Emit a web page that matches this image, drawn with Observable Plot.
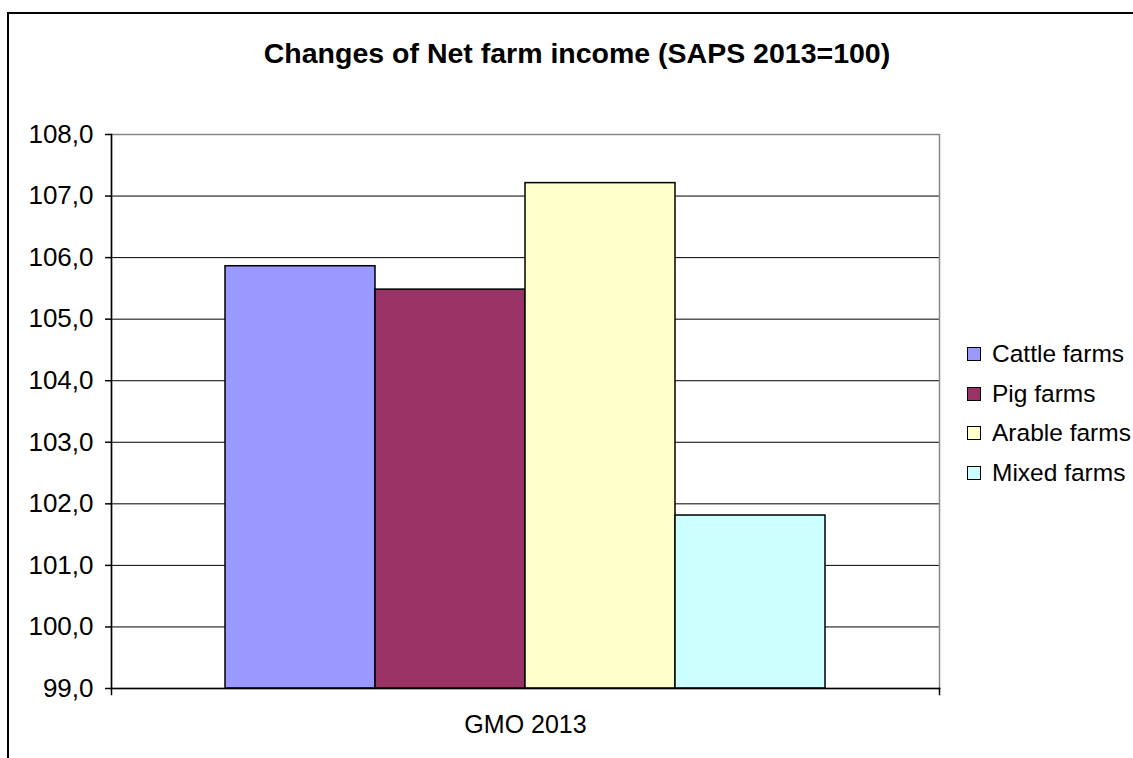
<!DOCTYPE html>
<html>
<head>
<meta charset="utf-8">
<script src="https://cdn.jsdelivr.net/npm/d3@7"></script>
<script src="https://cdn.jsdelivr.net/npm/@observablehq/plot@0.6"></script>
<style>
  html, body { margin: 0; padding: 0; background: #fff; overflow: hidden; }
  body { width: 1133px; height: 758px; position: relative; font-family: "Liberation Sans", Arial, sans-serif; }
  #border { position: absolute; left: 7px; top: 12px; width: 2000px; height: 2000px; border-left: 2px solid #000; border-top: 2px solid #000; }
  #title { position: absolute; left: 0; top: 39px; width: 1154px; text-align: center; font-weight: bold; font-size: 28.5px; line-height: 28px; color: #000; white-space: nowrap; }
  #chart { position: absolute; left: 0; top: 0; }
  .row { position: absolute; left: 967px; height: 24px; line-height: 24px; font-size: 24.5px; white-space: nowrap; color: #000; }
  .sw { position: absolute; left: 0; top: 5px; width: 14px; height: 14px; box-sizing: border-box; border: 1px solid #000; }
  .lb { position: absolute; left: 25px; top: 0; }
</style>
</head>
<body>
<div id="border"></div>
<div id="chart"></div>
<div id="title">Changes of Net farm income (SAPS 2013=100)</div>
<div id="legend"></div>
<script>
const group = "GMO 2013";
const farmTypes = ["Cattle farms", "Pig farms", "Arable farms", "Mixed farms"];
const values = [105.86, 105.48, 107.21, 101.81];
const colors = ["#9999FF", "#993366", "#FFFFCC", "#CCFFFF"];
const yTicks = [99, 100, 101, 102, 103, 104, 105, 106, 107, 108];

const data = farmTypes.map((t, i) => ({group, type: t, value: values[i]}));
const yMin = yTicks[0], yMax = yTicks[yTicks.length - 1];
const fmt = d => d.toFixed(1).replace(".", ",");

const W = 1133, H = 758, mL = 111, mR = 194, mT = 134, mB = 70;
const plotH = H - mT - mB;

const chart = Plot.plot({
  width: W, height: H,
  marginLeft: mL, marginRight: mR, marginTop: mT, marginBottom: mB,
  style: {fontFamily: "'Liberation Sans', Arial, sans-serif", fontSize: "25px", color: "#000", background: "transparent"},
  fx: {domain: [group], padding: 0, label: null},
  x: {domain: farmTypes, paddingInner: 0, paddingOuter: 0.75, axis: null},
  y: {domain: [yMin, yMax], label: null},
  color: {domain: farmTypes, range: colors},
  marks: [
    Plot.ruleY(yTicks, {stroke: "#000", strokeWidth: 1}),
    Plot.frame({stroke: "#888", strokeWidth: 1.5}),
    Plot.barY(data, {fx: "group", x: "type", y1: yMin, y2: "value", fill: "type", stroke: "#000", strokeWidth: 1.5}),
    Plot.frame({anchor: "left", stroke: "#000", strokeWidth: 1.5, insetBottom: -6}),
    Plot.frame({anchor: "bottom", stroke: "#000", strokeWidth: 1.5}),
    Plot.frame({anchor: "right", stroke: "#000", strokeWidth: 1.5, insetTop: plotH, insetBottom: -6}),
    Plot.axisY({ticks: yTicks, tickFormat: fmt, tickSize: 6, tickPadding: 12, stroke: "#000", strokeWidth: 1.5, fontSize: "26px", label: null}),
    Plot.axisFx({anchor: "bottom", tickSize: 0, tickPadding: 27, fontSize: "25px", label: null})
  ]
});
document.getElementById("chart").appendChild(chart);

const legend = document.getElementById("legend");
farmTypes.forEach((t, i) => {
  const row = document.createElement("div");
  row.className = "row";
  row.style.top = (342 + i * 39.5) + "px";
  const sw = document.createElement("div");
  sw.className = "sw";
  sw.style.background = colors[i];
  const lb = document.createElement("div");
  lb.className = "lb";
  lb.textContent = t;
  row.appendChild(sw); row.appendChild(lb);
  legend.appendChild(row);
});
</script>
</body>
</html>
